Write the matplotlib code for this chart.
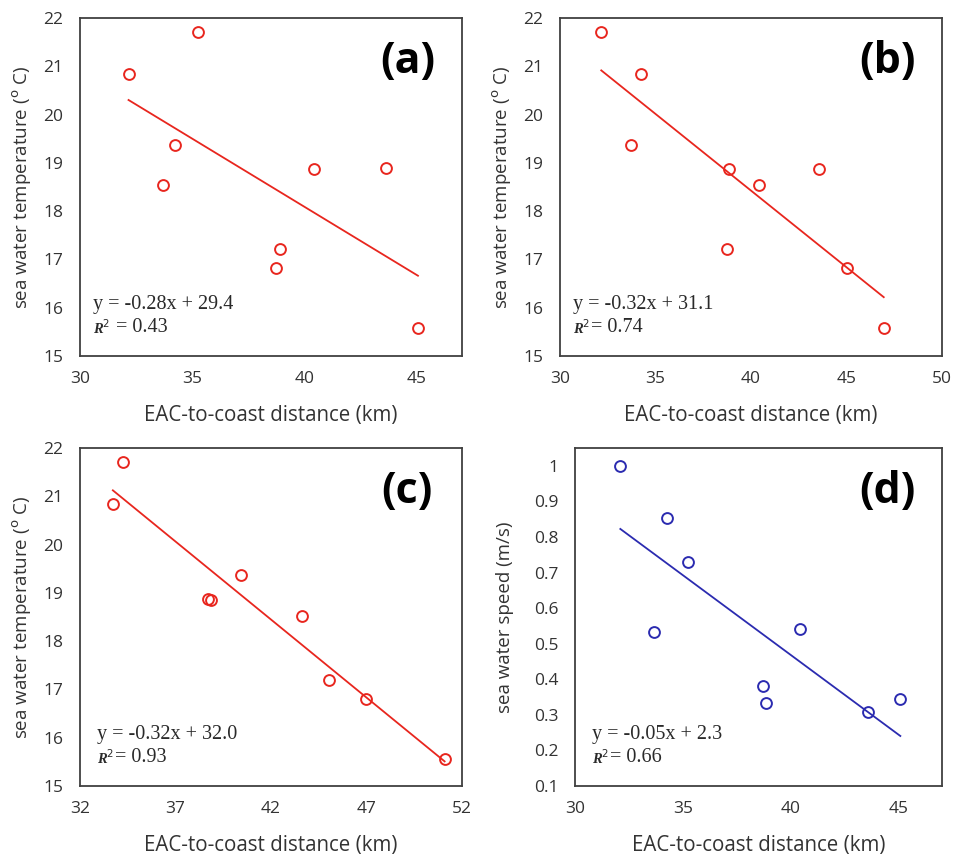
import numpy as np
import matplotlib
matplotlib.use('Agg')
import matplotlib.pyplot as plt
from matplotlib import transforms
from matplotlib.ticker import FuncFormatter

# panel (a): SST vs distance
dist_a = [35.27, 32.16, 34.25, 33.70, 40.43, 43.61, 38.91, 38.72, 45.04]
sst_a = [21.72, 20.85, 19.37, 18.54, 18.87, 18.89, 17.21, 16.82, 15.57]

# panel (b)
dist_b = [32.16, 34.25, 33.72, 38.86, 40.44, 43.56, 38.72, 45.04, 46.95]
sst_b = [21.72, 20.85, 19.37, 18.88, 18.54, 18.87, 17.21, 16.82, 15.57]

# panel (c)
dist_c = [34.25, 33.72, 40.44, 38.72, 38.88, 43.60, 45.05, 46.95, 51.09]
sst_c = [21.72, 20.84, 19.36, 18.88, 18.86, 18.52, 17.20, 16.81, 15.55]

# panel (d): speed vs distance
dist_d = [32.10, 34.25, 35.24, 33.67, 40.40, 38.71, 38.86, 43.59, 45.07]
speed_d = [1.00, 0.853, 0.729, 0.533, 0.541, 0.382, 0.333, 0.309, 0.345]

eqs = ['y = -0.28x + 29.4', 'y = -0.32x + 31.1', 'y = -0.32x + 32.0', 'y = -0.05x + 2.3']
r2s = [' = 0.43', '= 0.74', '= 0.93', '= 0.66']
letters = ['(a)', '(b)', '(c)', '(d)']

RED = '#e8261e'
BLUE = '#2b2bb0'
FRAME = '#404040'
TXT = '#333333'

fig = plt.figure(figsize=(9.59, 8.66), dpi=100)

panels = [
    # rect, x, y, color, xlim, xticks, ylim, yticks
    ([80/959, 1-356/866, 382/959, 338/866], dist_a, sst_a, RED,
     (30, 47), [30, 35, 40, 45], (15, 22), range(15, 23)),
    ([560/959, 1-356/866, 382/959, 338/866], dist_b, sst_b, RED,
     (30, 50), [30, 35, 40, 45, 50], (15, 22), range(15, 23)),
    ([80/959, 1-786/866, 382/959, 338/866], dist_c, sst_c, RED,
     (32, 52), [32, 37, 42, 47, 52], (15, 22), range(15, 23)),
    ([575/959, 1-786/866, 367/959, 338/866], dist_d, speed_d, BLUE,
     (30, 47), [30, 35, 40, 45], (0.1, 1.05), [0.1, 0.2, 0.3, 0.4, 0.5, 0.6, 0.7, 0.8, 0.9, 1.0]),
]

for i, (rect, x, y, col, xlim, xticks, ylim, yticks) in enumerate(panels):
    ax = fig.add_axes(rect)
    x = np.array(x)
    y = np.array(y)
    ax.plot(x, y, 'o', mfc='none', mec=col, ms=7.8, mew=1.4, zorder=3)
    # linear trendline over the data range
    k, b = np.polyfit(x, y, 1)
    xx = np.array([x.min(), x.max()])
    ax.plot(xx, k * xx + b, '-', color=col, lw=1.3)

    ax.set_xlim(*xlim)
    ax.set_ylim(*ylim)
    ax.set_xticks(xticks)
    ax.set_yticks(list(yticks))
    ax.yaxis.set_major_formatter(FuncFormatter(lambda v, p: '%g' % round(v, 2)))
    ax.tick_params(length=0, labelsize=12.5, colors=TXT)
    ax.tick_params(axis='x', pad=11)
    ax.tick_params(axis='y', pad=12)
    for lab in ax.get_xticklabels() + ax.get_yticklabels():
        lab.set_fontfamily('Open Sans')
    for s in ax.spines.values():
        s.set_color(FRAME)
        s.set_linewidth(1.3)

    ax.set_xlabel('EAC-to-coast distance (km)', fontsize=14.8, family='Open Sans',
                  color=TXT, labelpad=13)
    if i < 3:
        ax.set_ylabel(r'sea water temperature ($^{\rm o}$ C)', fontsize=13.5,
                      family='Open Sans', color=TXT, labelpad=7)
    else:
        ax.set_ylabel('sea water speed (m/s)', fontsize=13.5,
                      family='Open Sans', color=TXT, labelpad=14)

    x0 = 0.035 if i < 2 else 0.045
    ax.text(x0, 0.151, eqs[i], transform=ax.transAxes, fontsize=14.5,
            family='Liberation Serif', color='#2a2a2a', va='center', ha='left')
    ax.text(x0, 0.083, r'R$^2$', transform=ax.transAxes, fontsize=10.5,
            family='Liberation Serif', weight='bold', style='italic',
            color='#2a2a2a', va='center', ha='left')
    off = transforms.offset_copy(ax.transAxes, fig=fig, x=13, y=0, units='points')
    ax.text(x0, 0.083, r2s[i], transform=off, fontsize=14.5,
            family='Liberation Serif', color='#2a2a2a', va='center', ha='left')

    lx = 0.85 if i == 3 else 0.857
    ax.text(lx, 0.87, letters[i], transform=ax.transAxes, fontsize=31,
            family='Open Sans', weight='bold', color='black', ha='center', va='center')

fig.savefig('out.png', dpi=100)
